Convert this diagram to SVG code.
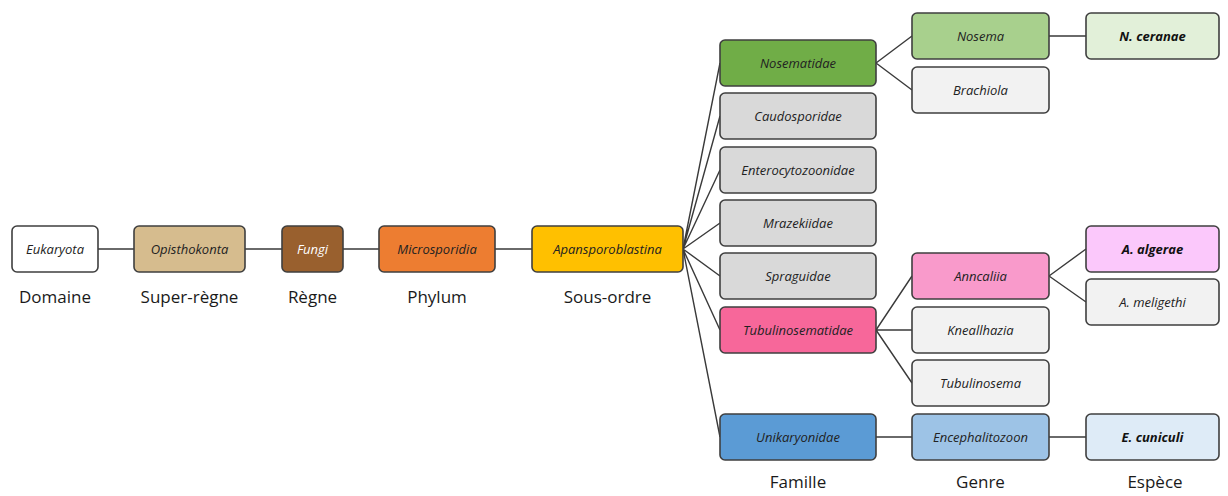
<svg xmlns="http://www.w3.org/2000/svg" width="1228" height="496" viewBox="0 0 1228 496">
<style>
.n{stroke:#3f3f3f;stroke-width:1.6}
.t{font-family:"Open Sans","Liberation Sans",sans-serif;font-style:italic;font-size:13px;fill:#222;text-anchor:middle;dominant-baseline:central}
.b{font-weight:bold;fill:#111}
.w{fill:#fff}
.lab{font-family:"Open Sans","Liberation Sans",sans-serif;font-size:17px;fill:#1a1a1a;text-anchor:middle}
.c{stroke:#3a3a3a;stroke-width:1.4;fill:none}
</style>
<rect width="1228" height="496" fill="#fff"/>
<g id="connectors">
<path class="c" d="M98 249H134M245 249H282M343 249H379M495 249H532"/>
<path class="c" d="M683 249L720 63M683 249L720 116M683 249L720 170M683 249L720 223M683 249L720 276M683 249L720 330M683 249L720 437"/>
<path class="c" d="M876 63L912 36M876 63L912 90M1049 36H1086"/>
<path class="c" d="M876 330L912 276M876 330H912M876 330L912 383M1049 276L1086 249M1049 276L1086 302"/>
<path class="c" d="M876 437H912M1049 437H1086"/>
</g>
<g id="eukaryota"><rect class="n" x="12" y="226" width="86" height="46" rx="5" fill="#fff"/><text class="t" x="55" y="249">Eukaryota</text></g>
<g id="opisthokonta"><rect class="n" x="134" y="226" width="111" height="46" rx="5" fill="#d6bc8e"/><text class="t" x="189.5" y="249">Opisthokonta</text></g>
<g id="fungi"><rect class="n" x="282" y="226" width="61" height="46" rx="5" fill="#99602e"/><text class="t w" x="312.5" y="249">Fungi</text></g>
<g id="microsporidia"><rect class="n" x="379" y="226" width="116" height="46" rx="5" fill="#ed7d31"/><text class="t" x="437" y="249">Microsporidia</text></g>
<g id="apansporoblastina"><rect class="n" x="532" y="226" width="151" height="46" rx="5" fill="#ffc000"/><text class="t" x="607.5" y="249">Apansporoblastina</text></g>
<g id="nosematidae"><rect class="n" x="720" y="40" width="156" height="46" rx="5" fill="#70ad47"/><text class="t" x="798" y="63">Nosematidae</text></g>
<g id="caudosporidae"><rect class="n" x="720" y="93" width="156" height="46" rx="5" fill="#d9d9d9"/><text class="t" x="798" y="116">Caudosporidae</text></g>
<g id="enterocytozoonidae"><rect class="n" x="720" y="147" width="156" height="46" rx="5" fill="#d9d9d9"/><text class="t" x="798" y="170">Enterocytozoonidae</text></g>
<g id="mrazekiidae"><rect class="n" x="720" y="200" width="156" height="46" rx="5" fill="#d9d9d9"/><text class="t" x="798" y="223">Mrazekiidae</text></g>
<g id="spraguidae"><rect class="n" x="720" y="253" width="156" height="46" rx="5" fill="#d9d9d9"/><text class="t" x="798" y="276">Spraguidae</text></g>
<g id="tubulinosematidae"><rect class="n" x="720" y="307" width="156" height="46" rx="5" fill="#f7679a"/><text class="t" x="798" y="330">Tubulinosematidae</text></g>
<g id="unikaryonidae"><rect class="n" x="720" y="414" width="156" height="46" rx="5" fill="#5b9bd5"/><text class="t" x="798" y="437">Unikaryonidae</text></g>
<g id="nosema"><rect class="n" x="912" y="13" width="137" height="46" rx="5" fill="#a8d08d"/><text class="t" x="980.5" y="36">Nosema</text></g>
<g id="brachiola"><rect class="n" x="912" y="67" width="137" height="46" rx="5" fill="#f2f2f2"/><text class="t" x="980.5" y="90">Brachiola</text></g>
<g id="anncaliia"><rect class="n" x="912" y="253" width="137" height="46" rx="5" fill="#f99acb"/><text class="t" x="980.5" y="276">Anncaliia</text></g>
<g id="kneallhazia"><rect class="n" x="912" y="307" width="137" height="46" rx="5" fill="#f2f2f2"/><text class="t" x="980.5" y="330">Kneallhazia</text></g>
<g id="tubulinosema"><rect class="n" x="912" y="360" width="137" height="46" rx="5" fill="#f2f2f2"/><text class="t" x="980.5" y="383">Tubulinosema</text></g>
<g id="encephalitozoon"><rect class="n" x="912" y="414" width="137" height="46" rx="5" fill="#9dc3e6"/><text class="t" x="980.5" y="437">Encephalitozoon</text></g>
<g id="n-ceranae"><rect class="n" x="1086" y="13" width="133" height="46" rx="5" fill="#e2f0d9"/><text class="t b" x="1152.5" y="36">N. ceranae</text></g>
<g id="a-algerae"><rect class="n" x="1086" y="226" width="133" height="46" rx="5" fill="#fbc8fb"/><text class="t b" x="1152.5" y="249">A. algerae</text></g>
<g id="a-meligethi"><rect class="n" x="1086" y="279" width="133" height="46" rx="5" fill="#f2f2f2"/><text class="t" x="1152.5" y="302">A. meligethi</text></g>
<g id="e-cuniculi"><rect class="n" x="1086" y="414" width="133" height="46" rx="5" fill="#deebf7"/><text class="t b" x="1152.5" y="437">E. cuniculi</text></g>
<g id="rank-labels">
<text class="lab" x="55" y="303">Domaine</text>
<text class="lab" x="189.5" y="303">Super-règne</text>
<text class="lab" x="312.5" y="303">Règne</text>
<text class="lab" x="437" y="303">Phylum</text>
<text class="lab" x="607.5" y="303">Sous-ordre</text>
<text class="lab" x="798" y="488">Famille</text>
<text class="lab" x="980.5" y="488">Genre</text>
<text class="lab" x="1155" y="488">Espèce</text>
</g>
</svg>
